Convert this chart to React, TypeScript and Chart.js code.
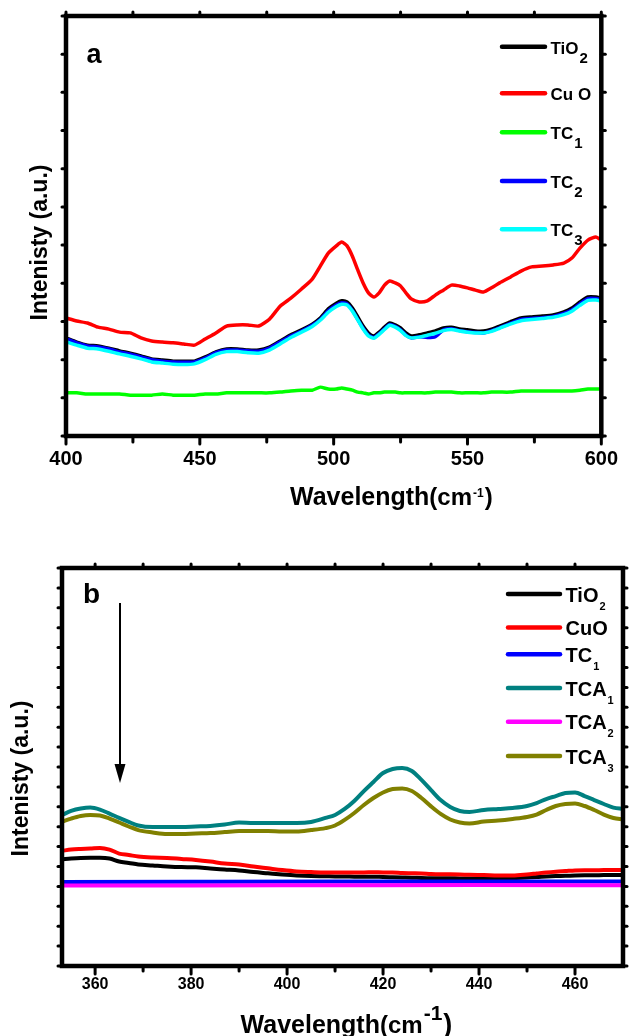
import React, { useEffect, useRef } from "react";
import { Chart, registerables } from "chart.js";
Chart.register(...registerables);

const FONT = "'Liberation Sans', Arial, Helvetica, sans-serif";

// ---------- Panel a ----------
const waveA = [400,404,408,412,416,420,424,428,432,436,440,444,448,452,456,460,464,468,472,476,480,484,488,492,495,498,501,503,505,507,509,511,513,515,517,519,521,523,525,527,529,532,535,538,541,544,547,550,553,556,559,562,566,570,574,578,582,586,589,592,595,598,600];
const tio2A = [2.57,2.46,2.38,2.36,2.30,2.23,2.17,2.10,2.02,1.99,1.96,1.96,1.96,2.07,2.20,2.28,2.28,2.25,2.25,2.33,2.49,2.65,2.78,2.93,3.09,3.33,3.48,3.54,3.51,3.35,3.12,2.88,2.70,2.62,2.72,2.85,2.96,2.91,2.83,2.70,2.62,2.65,2.70,2.75,2.83,2.85,2.80,2.78,2.75,2.75,2.80,2.88,2.99,3.09,3.12,3.14,3.17,3.25,3.35,3.51,3.64,3.64,3.61];
const cuoA = [3.09,3.01,2.96,2.85,2.80,2.72,2.70,2.57,2.49,2.46,2.44,2.41,2.38,2.54,2.70,2.88,2.91,2.91,2.88,3.06,3.40,3.61,3.85,4.11,4.45,4.79,4.98,5.08,4.98,4.71,4.35,4.01,3.75,3.64,3.75,3.95,4.06,4.01,3.93,3.75,3.59,3.51,3.54,3.69,3.82,3.95,3.93,3.88,3.82,3.77,3.88,4.01,4.16,4.32,4.43,4.45,4.48,4.53,4.66,4.92,5.13,5.21,5.13];
const tc1A = [1.13,1.13,1.10,1.10,1.10,1.10,1.07,1.07,1.07,1.10,1.07,1.07,1.07,1.10,1.10,1.13,1.13,1.13,1.13,1.13,1.15,1.18,1.20,1.20,1.28,1.23,1.23,1.26,1.23,1.20,1.15,1.13,1.10,1.13,1.13,1.15,1.15,1.15,1.13,1.13,1.13,1.13,1.13,1.15,1.15,1.15,1.13,1.13,1.13,1.13,1.15,1.15,1.15,1.18,1.18,1.18,1.18,1.18,1.18,1.20,1.23,1.23,1.23];
const tc2A = [2.55,2.44,2.36,2.33,2.28,2.20,2.14,2.07,2.00,1.96,1.94,1.93,1.94,2.04,2.18,2.25,2.25,2.23,2.22,2.30,2.46,2.62,2.75,2.90,3.05,3.28,3.43,3.49,3.46,3.29,3.05,2.82,2.64,2.58,2.68,2.81,2.92,2.87,2.78,2.64,2.57,2.60,2.58,2.60,2.78,2.81,2.76,2.73,2.71,2.70,2.76,2.84,2.95,3.05,3.08,3.10,3.13,3.21,3.30,3.46,3.60,3.60,3.57];
const tc3A = [2.47,2.38,2.30,2.28,2.22,2.15,2.09,2.02,1.94,1.91,1.88,1.87,1.89,2.00,2.14,2.21,2.21,2.18,2.17,2.25,2.41,2.58,2.72,2.87,3.03,3.24,3.39,3.45,3.43,3.27,3.04,2.80,2.62,2.56,2.66,2.79,2.90,2.85,2.76,2.63,2.57,2.59,2.64,2.69,2.76,2.79,2.75,2.72,2.70,2.70,2.74,2.82,2.93,3.02,3.05,3.08,3.11,3.18,3.27,3.42,3.55,3.56,3.53];
const namesA = ["TiO2", "Cu O", "TC1", "TC2", "TC3"];
const colorsA = ["#000000", "#ff0000", "#00ff00", "#0000ff", "#00ffff"];
const ordersA = [2, 3, 4, 1, 0];
const xTicksA = [400, 450, 500, 550, 600];
const xMinorA = [425, 475, 525, 575];
const yTicksA = [0,1,2,3,4,5,6,7,8,9,10,11];

// ---------- Panel b ----------
const waveB = [353.1,355,357,359,361,363,365,367,369,372,375,378,381,384,387,390,393,396,399,402,405,408,410,412,414,416,418,420,422,424,426,428,430,432,434,436,438,441,444,447,450,452,454,456,458,460,462,464,466,468,470];
const tio2B = [5.36,5.40,5.43,5.44,5.44,5.40,5.25,5.18,5.10,5.05,5.00,4.97,4.96,4.90,4.85,4.80,4.72,4.66,4.60,4.55,4.52,4.51,4.50,4.50,4.49,4.49,4.49,4.47,4.46,4.45,4.44,4.42,4.41,4.41,4.41,4.40,4.40,4.40,4.41,4.42,4.45,4.47,4.50,4.52,4.53,4.55,4.56,4.56,4.57,4.57,4.57];
const cuoB = [5.79,5.85,5.88,5.90,5.93,5.85,5.65,5.58,5.50,5.45,5.43,5.38,5.33,5.25,5.15,5.10,5.00,4.91,4.82,4.75,4.72,4.70,4.70,4.70,4.70,4.70,4.71,4.70,4.70,4.67,4.66,4.65,4.62,4.61,4.61,4.60,4.58,4.57,4.55,4.55,4.60,4.65,4.70,4.74,4.77,4.80,4.81,4.81,4.82,4.82,4.82];
const tca1B = [7.59,7.79,7.91,7.96,7.86,7.66,7.44,7.24,7.06,6.98,6.98,6.98,7.01,7.04,7.11,7.21,7.19,7.19,7.19,7.19,7.24,7.44,7.59,7.89,8.29,8.79,9.25,9.70,9.90,9.95,9.80,9.35,8.84,8.34,7.99,7.79,7.74,7.84,7.89,7.94,8.04,8.19,8.39,8.54,8.69,8.72,8.54,8.34,8.14,7.96,7.89];
const tca3B = [7.25,7.41,7.54,7.59,7.56,7.41,7.21,7.01,6.83,6.71,6.63,6.63,6.66,6.68,6.73,6.78,6.78,6.78,6.76,6.76,6.83,6.93,7.06,7.34,7.69,8.09,8.44,8.72,8.89,8.92,8.79,8.44,8.02,7.64,7.36,7.21,7.16,7.26,7.31,7.39,7.49,7.61,7.84,8.04,8.14,8.17,8.04,7.84,7.61,7.44,7.36];
const flatB = [353.1, 380, 410, 440, 470];
const tc1B = [4.22, 4.23, 4.24, 4.25, 4.25];
const tca2B = [4.05, 4.05, 4.06, 4.07, 4.06];
const namesB = ["TiO2", "CuO", "TC1", "TCA1", "TCA2", "TCA3"];
const colorsB = ["#000000", "#ff0000", "#0000ff", "#008080", "#ff00ff", "#808000"];
const xTicksB = [360, 380, 400, 420, 440, 460];
const xMinorB = [370, 390, 410, 430, 450];
const yTicksB = [0,1,2,3,4,5,6,7,8,9,10,11,12,13,14,15,16,17,18,19,20];

function splitSub(name: string): [string, string] {
  const m = name.match(/^(.*?)(\d+)$/);
  return m ? [m[1], m[2]] : [name, ""];
}

function makeDecor(o: any) {
  return {
    id: "decor",
    afterDraw(chart: any) {
      const ctx = chart.ctx;
      const a = chart.chartArea;
      const xs = chart.scales.x;
      const ys = chart.scales.y;
      ctx.save();
      ctx.strokeStyle = "#000";
      ctx.fillStyle = "#000";
      const seg = (x1: number, y1: number, x2: number, y2: number) => {
        ctx.beginPath();
        ctx.moveTo(x1, y1);
        ctx.lineTo(x2, y2);
        ctx.stroke();
      };
      ctx.lineWidth = 3;
      ctx.lineCap = "round";
      o.xMajor.forEach((v: number) => {
        const p = xs.getPixelForValue(v);
        seg(p, a.bottom, p, a.bottom + o.majorLen);
        seg(p, a.top, p, a.top - o.sideLen);
      });
      o.xMinor.forEach((v: number) => {
        const p = xs.getPixelForValue(v);
        seg(p, a.bottom, p, a.bottom + o.minorLen);
        seg(p, a.top, p, a.top - o.sideLen);
      });
      o.yTicks.forEach((v: number) => {
        const p = ys.getPixelForValue(v);
        seg(a.left - o.sideLen, p, a.left, p);
        seg(a.right, p, a.right + o.sideLen, p);
      });
      ctx.lineCap = "butt";
      ctx.lineJoin = "miter";
      ctx.lineWidth = o.frameW;
      ctx.strokeRect(a.left, a.top, a.right - a.left, a.bottom - a.top);

      // panel letter
      ctx.textAlign = "left";
      ctx.textBaseline = "alphabetic";
      ctx.font = `bold ${o.letterSize}px ${FONT}`;
      ctx.fillText(o.letter, o.letterX, o.letterY);

      // legend
      o.names.forEach((n: string, i: number) => {
        const y = o.legYs[i];
        ctx.strokeStyle = o.colors[i];
        ctx.lineWidth = 4.5;
        ctx.lineCap = "round";
        seg(o.legX1, y, o.legX2, y);
        const [main, sub] = splitSub(n);
        ctx.fillStyle = "#000";
        ctx.font = `bold ${o.legSize}px ${FONT}`;
        ctx.fillText(main, o.legTextX, y + o.legBase);
        const w = ctx.measureText(main).width;
        if (sub) {
          ctx.font = `bold ${o.subSize}px ${FONT}`;
          ctx.fillText(sub, o.legTextX + w + 1, y + o.subBase);
        }
      });
      ctx.strokeStyle = "#000";
      ctx.fillStyle = "#000";

      // x title
      let x = o.xtX;
      const parts = o.xtParts;
      parts.forEach((p: any) => {
        ctx.font = `bold ${p.size}px ${FONT}`;
        ctx.fillText(p.t, x, p.y);
        x += ctx.measureText(p.t).width + (p.gap || 0);
      });

      // y title
      ctx.save();
      ctx.translate(o.ytX, o.ytY);
      ctx.rotate(-Math.PI / 2);
      ctx.textAlign = "center";
      ctx.font = `bold ${o.ytSize}px ${FONT}`;
      ctx.fillText("Intenisty (a.u.)", 0, 0);
      ctx.restore();

      // arrow
      if (o.arrow) {
        const ar = o.arrow;
        ctx.lineWidth = 2;
        ctx.lineCap = "butt";
        seg(ar.x, ar.y1, ar.x, ar.y2 - 12);
        ctx.beginPath();
        ctx.moveTo(ar.x - 5.5, ar.y2 - 19);
        ctx.lineTo(ar.x + 5.5, ar.y2 - 19);
        ctx.lineTo(ar.x, ar.y2);
        ctx.closePath();
        ctx.fill();
      }
      ctx.restore();
    },
  };
}

function PanelA() {
  const ref = useRef<HTMLCanvasElement>(null);
  useEffect(() => {
    const series = [tio2A, cuoA, tc1A, tc2A, tc3A];
    const chart = new Chart(ref.current as HTMLCanvasElement, {
      type: "line",
      data: {
        datasets: namesA.map((n, i) => ({
          label: n,
          data: waveA.map((x, j) => ({ x, y: series[i][j] })),
          borderColor: colorsA[i],
          backgroundColor: colorsA[i],
          borderWidth: 3.5,
          pointRadius: 0,
          tension: 0.2,
          order: ordersA[i],
        })),
      },
      options: {
        responsive: false,
        animation: false,
        devicePixelRatio: 1,
        layout: { padding: { left: 0, top: 16, right: 18, bottom: 0 } },
        plugins: { legend: { display: false }, tooltip: { enabled: false } },
        scales: {
          x: {
            type: "linear",
            min: 400,
            max: 600,
            grid: { display: false, drawTicks: false },
            border: { display: false },
            ticks: { color: "#000", font: { family: FONT, size: 20, weight: "bold" }, padding: 11, autoSkip: false, maxRotation: 0 },
            afterBuildTicks: (s: any) => { s.ticks = xTicksA.map((v) => ({ value: v })); },
            afterFit: (s: any) => { s.height = 84; },
          },
          y: {
            type: "linear",
            min: 0,
            max: 11,
            grid: { display: false, drawTicks: false },
            border: { display: false },
            ticks: { display: false },
            afterFit: (s: any) => { s.width = 66; },
          },
        },
      } as any,
      plugins: [
        makeDecor({
          xMajor: xTicksA, xMinor: xMinorA, yTicks: yTicksA,
          majorLen: 8, minorLen: 6, sideLen: 4, frameW: 4.5,
          letter: "a", letterSize: 27, letterX: 86.5, letterY: 63,
          names: namesA, colors: colorsA, legYs: [46.7, 93.3, 132.3, 181, 229.3],
          legX1: 502, legX2: 545, legTextX: 550.5, legSize: 17, legBase: 7, subSize: 15, subBase: 16,
          xtX: 290,
          xtParts: [
            { t: "Wavelength", size: 25, y: 505 },
            { t: "(cm", size: 24, y: 505, gap: 1 },
            { t: "-1", size: 12, y: 497, gap: 1 },
            { t: ")", size: 24, y: 505 },
          ],
          ytX: 47, ytY: 242.5, ytSize: 23,
        }),
      ],
    });
    return () => chart.destroy();
  }, []);
  return <canvas ref={ref} width={629} height={520} style={{ position: "absolute", left: 0, top: 0, width: 629, height: 520 }} />;
}

function PanelB() {
  const ref = useRef<HTMLCanvasElement>(null);
  useEffect(() => {
    const mk = (xs: number[], ys: number[]) => xs.map((x, j) => ({ x, y: ys[j] }));
    const data = [mk(waveB, tio2B), mk(waveB, cuoB), mk(flatB, tc1B), mk(waveB, tca1B), mk(flatB, tca2B), mk(waveB, tca3B)];
    const chart = new Chart(ref.current as HTMLCanvasElement, {
      type: "line",
      data: {
        datasets: namesB.map((n, i) => ({
          label: n,
          data: data[i],
          borderColor: colorsB[i],
          backgroundColor: colorsB[i],
          borderWidth: 4,
          pointRadius: 0,
          tension: 0.3,
          cubicInterpolationMode: "monotone",
          order: 5 - i,
        })),
      },
      options: {
        responsive: false,
        animation: false,
        devicePixelRatio: 1,
        layout: { padding: { left: 0, top: 48, right: 6, bottom: 0 } },
        plugins: { legend: { display: false }, tooltip: { enabled: false } },
        scales: {
          x: {
            type: "linear",
            min: 353.1,
            max: 470,
            grid: { display: false, drawTicks: false },
            border: { display: false },
            ticks: { color: "#000", font: { family: FONT, size: 16, weight: "bold" }, padding: 9, autoSkip: false, maxRotation: 0 },
            afterBuildTicks: (s: any) => { s.ticks = xTicksB.map((v) => ({ value: v })); },
            afterFit: (s: any) => { s.height = 70; },
          },
          y: {
            type: "linear",
            min: 0,
            max: 20,
            grid: { display: false, drawTicks: false },
            border: { display: false },
            ticks: { display: false },
            afterFit: (s: any) => { s.width = 62; },
          },
        },
      } as any,
      plugins: [
        makeDecor({
          xMajor: xTicksB, xMinor: xMinorB, yTicks: yTicksB,
          majorLen: 8, minorLen: 5, sideLen: 4, frameW: 4.5,
          letter: "b", letterSize: 28, letterX: 83, letterY: 83,
          names: namesB, colors: colorsB, legYs: [74, 107.5, 134.3, 168, 201.7, 236],
          legX1: 508, legX2: 560, legTextX: 565.5, legSize: 20, legBase: 7.5, subSize: 11, subBase: 15.5,
          xtX: 240.6,
          xtParts: [
            { t: "Wavelength", size: 25, y: 513 },
            { t: "(cm", size: 24, y: 513, gap: 1 },
            { t: "-1", size: 21, y: 500, gap: 1 },
            { t: ")", size: 27, y: 513 },
          ],
          ytX: 28, ytY: 258.5, ytSize: 23,
          arrow: { x: 120, y1: 83, y2: 263 },
        }),
      ],
    });
    return () => chart.destroy();
  }, []);
  return <canvas ref={ref} width={629} height={516} style={{ position: "absolute", left: 0, top: 520, width: 629, height: 516 }} />;
}

export default function App() {
  return (
    <div style={{ position: "absolute", left: 0, top: 0, width: 629, height: 1036, background: "#fff", overflow: "hidden" }}>
      <PanelA />
      <PanelB />
    </div>
  );
}
